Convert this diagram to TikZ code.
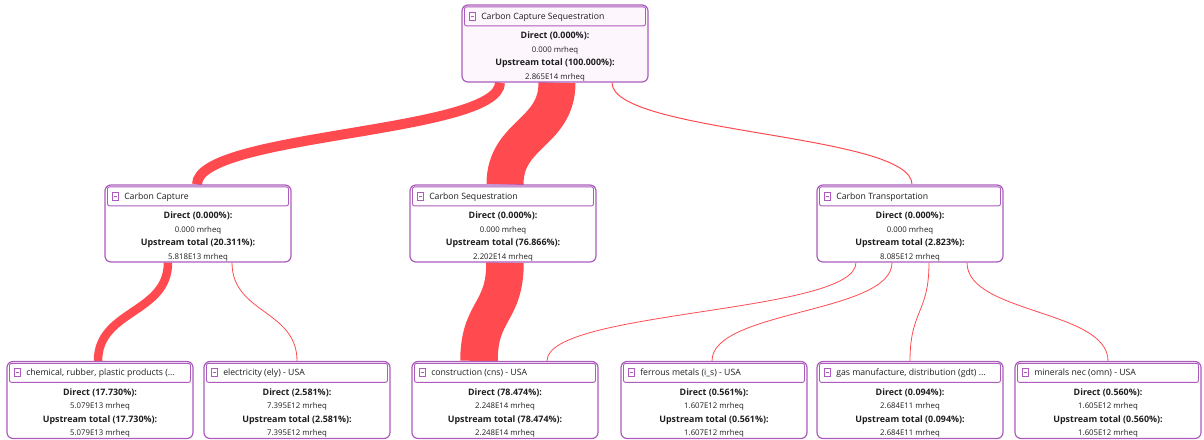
\documentclass[tikz,border=0pt]{standalone}
\usepackage{fontspec}
\setmainfont{Open Sans}
\usetikzlibrary{positioning,backgrounds}
\definecolor{boxline}{RGB}{172,92,188}
\definecolor{flowred}{RGB}{255,75,80}
\definecolor{topfill}{RGB}{253,246,253}
\definecolor{bodyink}{RGB}{30,30,30}

\newcommand{\boldline}{\fontsize{8.9}{13.6}\selectfont\bfseries}
\newcommand{\resultnode}[8]{%
  \node[resultbox, fill=#2] (#1) at (#3) {};
  \node[headbox, below=2pt of #1.north] (#1-head) {};
  \draw[iconbox] ([xshift=5pt,yshift=4pt]#1-head.west) rectangle +(6,8);
  \draw[iconbox] ([xshift=6.5pt]#1-head.west) -- +(3,0);
  \node[headtext] (#1-title) at ([xshift=17pt,yshift=-0.5pt]#1-head.west) {#4};
  \node[bodytext] (#1-body) at ([yshift=-13pt]#1.center)
    {{\boldline Direct (#5):}\\#6\\{\boldline Upstream total (#7):}\\#8};
}

\begin{document}
\begin{tikzpicture}[
            x=1pt, y=-1pt,
            resultbox/.style={draw=boxline, line width=1.2pt, rounded corners=6pt,
                minimum width=186pt, minimum height=77pt, inner sep=0pt},
            headbox/.style={draw=boxline, line width=0.9pt, rounded corners=2pt,
                minimum width=181pt, minimum height=19pt, inner sep=0pt},
            headtext/.style={anchor=west, inner sep=0pt, text=bodyink,
                font=\fontsize{8.7}{10}\selectfont},
            bodytext/.style={align=center, inner sep=0pt, text=bodyink,
                font=\fontsize{7.8}{13.6}\selectfont},
            iconbox/.style={draw=boxline, line width=0.8pt},
            flow/.style={draw=flowred, line width=#1}
            ]
        \useasboundingbox (0,0) rectangle (1204,439);

        % top level
        \resultnode{ccs}{topfill}{555,43.5}{Carbon Capture Sequestration}
            {0.000\%}{0.000 mrheq}{100.000\%}{2.865E14 mrheq}

        % second level
        \resultnode{cap}{white}{198,223.5}{Carbon Capture}
            {0.000\%}{0.000 mrheq}{20.311\%}{5.818E13 mrheq}
        \resultnode{seq}{white}{503,223.5}{Carbon Sequestration}
            {0.000\%}{0.000 mrheq}{76.866\%}{2.202E14 mrheq}
        \resultnode{trans}{white}{910,223.5}{Carbon Transportation}
            {0.000\%}{0.000 mrheq}{2.823\%}{8.085E12 mrheq}

        % third level
        \resultnode{chem}{white}{100,400}{chemical, rubber, plastic products (...}
            {17.730\%}{5.079E13 mrheq}{17.730\%}{5.079E13 mrheq}
        \resultnode{elec}{white}{297,400}{electricity (ely) - USA}
            {2.581\%}{7.395E12 mrheq}{2.581\%}{7.395E12 mrheq}
        \resultnode{cons}{white}{505,400}{construction (cns) - USA}
            {78.474\%}{2.248E14 mrheq}{78.474\%}{2.248E14 mrheq}
        \resultnode{ferr}{white}{714,400}{ferrous metals (i\_s) - USA}
            {0.561\%}{1.607E12 mrheq}{0.561\%}{1.607E12 mrheq}
        \resultnode{gas}{white}{910,400}{gas manufacture, distribution (gdt) ...}
            {0.094\%}{2.684E11 mrheq}{0.094\%}{2.684E11 mrheq}
        \resultnode{min}{white}{1108,400}{minerals nec (omn) - USA}
            {0.560\%}{1.605E12 mrheq}{0.560\%}{1.605E12 mrheq}

        % flows, width by share
        \begin{scope}[on background layer]
        \foreach \from/\fx/\to/\tx/\w in {
                ccs/-55/cap/-1/10, ccs/2/seq/2/37, ccs/57/trans/2/1,
                cap/-30/chem/-2/8.5, cap/34/elec/0/0.8,
                seq/2/cons/-26/37.5, trans/-54/cons/42/0.8,
                trans/-18/ferr/-2/0.8, trans/19/gas/0/0.8, trans/57/min/0/0.8}
            \draw[flow=\w pt] ([xshift=\fx pt]\from.south)
                .. controls +(0,51) and +(0,-51) .. ([xshift=\tx pt]\to.north);
        \end{scope}
\end{tikzpicture}
\end{document}
